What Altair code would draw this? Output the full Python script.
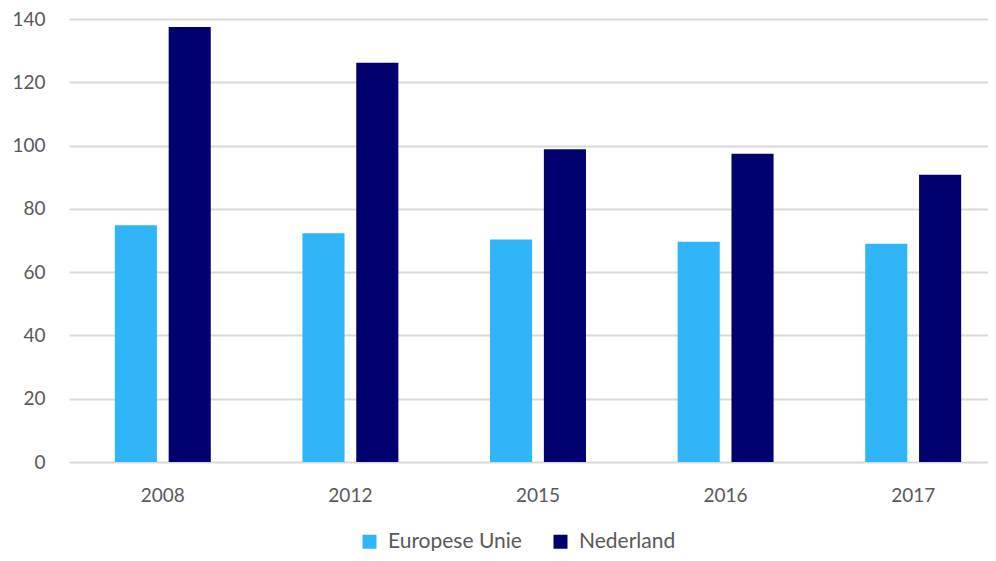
import altair as alt
import pandas as pd

years = ["2008", "2012", "2015", "2016", "2017"]
eu = [74.8, 72.3, 70.3, 69.6, 69.0]
nl = [137.5, 126.2, 98.8, 97.4, 90.8]
series = ["Europese Unie", "Nederland"]
colors = ["#30B6F8", "#00006E"]

rows = []
for i, y in enumerate(years):
    rows.append({"jaar": y, "reeks": series[0], "waarde": eu[i]})
    rows.append({"jaar": y, "reeks": series[1], "waarde": nl[i]})
df = pd.DataFrame(rows)

FONT = "Lato"

chart = alt.Chart(df).mark_bar().encode(
    x=alt.X("jaar:N", sort=years, title=None,
            scale=alt.Scale(paddingInner=0.4886, paddingOuter=0.2443, range=[0, 938]),
            axis=alt.Axis(labelAngle=0, domain=False, ticks=False, labelPadding=24,
                          labelFontSize=19, labelColor="#595959", labelFont=FONT)),
    xOffset=alt.XOffset("reeks:N", sort=series,
                        scale=alt.Scale(paddingInner=0.218, paddingOuter=0)),
    y=alt.Y("waarde:Q", title=None,
            scale=alt.Scale(domain=[0, 140], nice=False),
            axis=alt.Axis(values=[0, 20, 40, 60, 80, 100, 120, 140], domain=False, ticks=False,
                          labelPadding=24, labelFontSize=19, labelColor="#595959", labelFont=FONT,
                          gridColor="#D9D9D9", gridWidth=2)),
    color=alt.Color("reeks:N", sort=series,
                    scale=alt.Scale(domain=series, range=colors),
                    legend=alt.Legend(title=None, orient="none", direction="horizontal",
                                      legendX=290, legendY=512,
                                      symbolType="square", symbolSize=196, symbolStrokeWidth=0,
                                      labelFontSize=21, labelColor="#595959", labelFont=FONT,
                                      columnPadding=28, labelOffset=8)),
).properties(
    width=919, height=443,
    background="white",
    autosize=alt.AutoSizeParams(type="none"),
    padding={"left": 61, "top": 11, "right": 0, "bottom": 89},
).configure_view(stroke=None)

chart.save("out.html", embed_options={"renderer": "svg", "actions": False})
